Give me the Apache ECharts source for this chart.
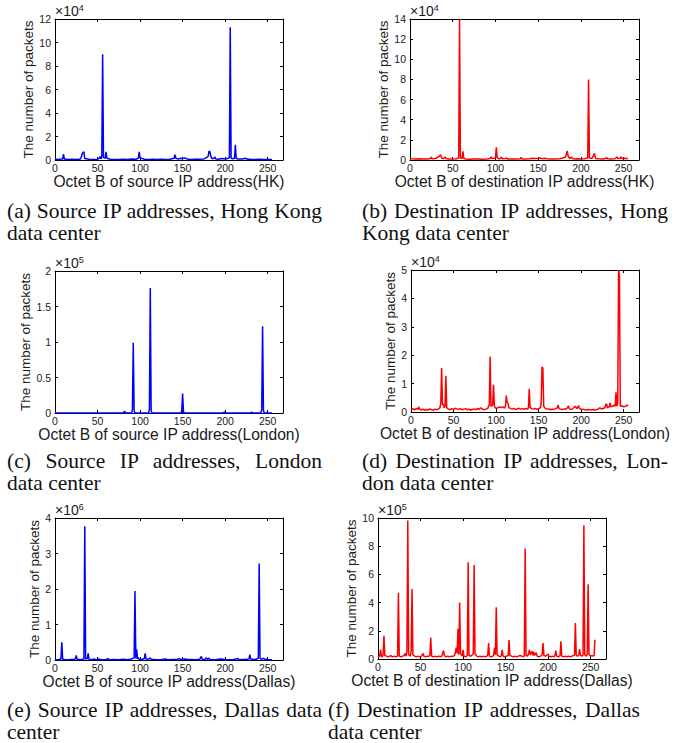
<!DOCTYPE html>
<html>
<head>
<meta charset="utf-8">
<script src="https://cdn.jsdelivr.net/npm/echarts@6/dist/echarts.min.js"></script>
<style>
    body { margin: 0; background: #fff; }
    #main { position: absolute; left: 0; top: 0; width: 676px; height: 743px; }
    .cap { position: absolute; font-family: "Liberation Serif", "DejaVu Serif", serif; font-size: 21.5px; line-height: 22px; color: #111; }
    .cap .j { text-align: justify; text-align-last: justify; white-space: nowrap; }
</style>
</head>
<body>
<div id="main"></div>
<div class="cap" style="left:7px;top:200px;width:315px"><div class="j">(a) Source IP addresses, Hong Kong</div><div>data center</div></div>
<div class="cap" style="left:362px;top:200px;width:306px"><div class="j">(b) Destination IP addresses, Hong</div><div>Kong data center</div></div>
<div class="cap" style="left:7px;top:450px;width:315px"><div class="j">(c) Source IP addresses, London</div><div>data center</div></div>
<div class="cap" style="left:362px;top:450px;width:306px"><div class="j">(d) Destination IP addresses, Lon-</div><div>don data center</div></div>
<div class="cap" style="left:7px;top:699px;width:315px"><div class="j">(e) Source IP addresses, Dallas data</div><div>center</div></div>
<div class="cap" style="left:328px;top:699px;width:312px"><div class="j">(f) Destination IP addresses, Dallas</div><div>data center</div></div>
<script>
// packets per octet B value, [octet, packets]
var hkSrc = [[0,800],[3,500],[6,700],[9,900],[10,5000],[11,800],[15,400],[20,600],[25,500],[30,900],[31,2500],[32,5500],[33,6500],[34,7000],[35,1200],[40,600],[45,500],[50,700],[52,1500],[53,3000],[54,1000],[55,2500],[56,90000],[57,2000],[59,1500],[60,7000],[61,1500],[65,600],[70,500],[75,400],[80,600],[85,500],[90,800],[95,700],[98,1500],[99,7000],[100,1800],[105,600],[110,500],[115,700],[120,400],[125,600],[130,500],[135,700],[140,1500],[141,4500],[142,1500],[145,800],[148,1500],[150,1200],[153,1800],[155,900],[158,600],[160,500],[165,600],[170,700],[175,900],[178,2000],[180,3000],[181,7500],[182,7000],[183,4000],[184,1500],[186,1000],[188,2500],[189,900],[192,700],[196,1200],[200,800],[204,1500],[205,2000],[206,113000],[207,1500],[209,1000],[211,1500],[212,13000],[213,1500],[215,800],[220,900],[224,1500],[226,700],[230,600],[235,500],[240,600],[245,400],[250,500],[255,400]];

var hkDst = [[0,1500],[3,1200],[6,1000],[10,1300],[15,900],[20,1100],[24,1500],[25,3000],[26,1200],[30,1500],[32,2500],[34,3500],[35,4500],[36,5000],[37,2000],[39,1200],[41,3000],[42,1500],[45,1000],[50,900],[54,1200],[57,2000],[58,140000],[59,2000],[61,1500],[62,8500],[63,1500],[65,1000],[70,800],[75,900],[80,1000],[85,800],[90,1000],[94,1500],[95,3000],[96,1500],[100,2000],[101,12500],[102,2500],[104,1200],[106,1500],[107,3000],[108,1200],[112,1500],[113,2000],[114,1000],[120,900],[125,1000],[129,1200],[130,2500],[131,1000],[135,900],[140,1300],[143,1800],[146,1500],[150,1800],[152,2000],[155,1300],[158,1800],[160,1200],[165,900],[170,1000],[175,1200],[179,2000],[182,3000],[184,9000],[185,4000],[187,1500],[189,3000],[190,1500],[193,1000],[196,1200],[200,1000],[204,1300],[208,2000],[209,80000],[210,2000],[213,1500],[216,6500],[217,1500],[220,1200],[225,1000],[229,1500],[230,2500],[231,1200],[235,1000],[240,1300],[242,3000],[243,1500],[246,1500],[247,3000],[248,1500],[250,1200],[252,1800],[255,1200]];

var lonSrc = [[0,0],[80,0],[81,1500],[82,2500],[83,0],[90,0],[91,5000],[92,99000],[93,3000],[94,0],[110,0],[111,5000],[112,176000],[113,3000],[114,0],[148,0],[149,3000],[150,27500],[151,2000],[152,0],[198,0],[199,1500],[200,0],[230,0],[231,1500],[232,0],[242,0],[243,5000],[244,122000],[245,3000],[246,0],[255,0]];

var lonDst = [[0,800],[2,1200],[4,700],[6,1300],[8,900],[9,1800],[10,1100],[12,700],[14,1000],[16,600],[18,900],[20,700],[22,1100],[24,800],[26,600],[28,1000],[30,800],[32,1000],[34,1500],[35,3000],[36,15500],[37,2500],[38,2800],[39,1500],[40,2000],[41,12800],[42,1500],[44,1000],[46,800],[48,1200],[50,900],[52,1300],[54,1100],[56,900],[58,1200],[60,800],[62,1000],[64,1200],[66,800],[68,1000],[70,700],[72,900],[74,1100],[76,800],[78,1300],[80,900],[82,1500],[84,1000],[86,800],[88,1000],[90,1200],[92,2500],[93,19500],[94,2000],[96,2500],[97,9600],[98,2000],[100,1200],[102,1500],[104,1800],[106,1600],[108,1800],[110,1400],[111,2000],[112,5800],[113,3500],[114,3000],[115,1600],[117,1200],[119,1000],[121,1300],[123,900],[125,1100],[127,1300],[129,1000],[131,1200],[133,900],[135,1300],[137,1000],[138,1500],[139,8200],[140,1500],[142,1200],[144,1000],[146,1300],[148,900],[150,1200],[152,1500],[153,3000],[154,15900],[155,15500],[156,2000],[158,1200],[160,1000],[162,1100],[164,800],[166,1000],[168,900],[170,1200],[172,1500],[173,2500],[174,1200],[176,1000],[178,900],[180,1100],[182,1000],[184,1500],[185,2200],[186,1200],[188,900],[190,1100],[192,1800],[193,2000],[195,1200],[197,2200],[198,1300],[200,900],[202,1000],[204,800],[206,700],[208,900],[210,800],[212,700],[214,900],[216,700],[218,800],[220,1000],[222,1500],[224,1000],[226,1300],[228,1500],[229,2700],[230,2800],[231,1500],[233,1800],[234,3200],[235,1800],[237,2000],[239,2500],[240,2000],[241,6900],[242,2000],[243,3000],[244,50000],[245,48000],[246,2000],[248,2200],[250,1800],[252,2000],[254,2300],[255,2600]];

var dalSrc = [[0,10000],[5,15000],[7,30000],[8,500000],[9,20000],[12,10000],[18,15000],[23,20000],[24,40000],[25,130000],[26,20000],[30,10000],[34,30000],[35,3770000],[36,30000],[38,40000],[39,190000],[40,20000],[44,10000],[46,30000],[48,10000],[52,25000],[55,10000],[60,15000],[62,35000],[64,10000],[70,15000],[75,10000],[80,20000],[85,10000],[90,30000],[93,60000],[94,1940000],[95,40000],[96,300000],[97,30000],[98,70000],[99,20000],[102,15000],[105,40000],[106,190000],[107,30000],[110,20000],[112,60000],[113,20000],[118,15000],[124,10000],[130,30000],[132,10000],[138,15000],[144,20000],[146,35000],[148,15000],[152,30000],[155,20000],[160,15000],[165,10000],[170,20000],[172,100000],[173,20000],[176,15000],[178,60000],[179,15000],[181,50000],[182,15000],[186,10000],[190,15000],[195,30000],[200,15000],[205,10000],[210,15000],[215,40000],[216,10000],[220,15000],[225,20000],[228,30000],[229,150000],[230,30000],[233,15000],[236,20000],[239,50000],[240,2720000],[241,40000],[243,20000],[245,50000],[246,30000],[250,15000],[255,10000]];

var dalDst = [[0,20000],[1,15000],[2,20000],[3,66000],[4,20000],[5,15000],[6,30000],[7,165000],[8,25000],[10,20000],[12,15000],[14,20000],[15,25000],[17,15000],[19,20000],[21,15000],[23,20000],[24,470000],[25,20000],[27,15000],[29,20000],[31,25000],[32,40000],[33,20000],[34,60000],[35,983000],[36,30000],[38,20000],[39,60000],[40,496000],[41,30000],[43,20000],[45,15000],[47,20000],[49,15000],[51,20000],[52,30000],[53,40000],[54,20000],[56,15000],[58,20000],[60,20000],[61,25000],[62,153000],[63,20000],[65,15000],[67,20000],[69,15000],[71,20000],[73,18000],[75,20000],[76,40000],[77,60000],[78,25000],[80,15000],[82,20000],[84,15000],[86,20000],[88,18000],[90,25000],[91,50000],[92,80000],[93,40000],[94,214000],[95,30000],[96,400000],[97,40000],[98,30000],[99,20000],[100,65000],[101,20000],[103,15000],[105,25000],[106,687000],[107,25000],[109,20000],[111,30000],[112,40000],[113,666000],[114,40000],[116,20000],[118,15000],[120,20000],[122,15000],[124,20000],[126,15000],[128,20000],[129,30000],[130,113000],[131,20000],[133,15000],[135,20000],[136,30000],[137,80000],[138,30000],[139,367000],[140,30000],[142,20000],[144,15000],[145,25000],[146,65000],[147,20000],[149,15000],[151,20000],[153,25000],[154,134000],[155,25000],[157,20000],[159,15000],[161,20000],[163,15000],[165,20000],[167,25000],[169,20000],[171,15000],[172,25000],[173,784000],[174,25000],[176,20000],[178,65000],[179,30000],[180,40000],[181,55000],[182,25000],[183,50000],[184,25000],[186,45000],[187,20000],[189,15000],[191,20000],[193,30000],[194,113000],[195,25000],[197,20000],[199,30000],[200,35000],[201,20000],[203,15000],[205,20000],[207,15000],[208,25000],[209,60000],[210,20000],[212,15000],[214,25000],[215,125000],[216,20000],[218,15000],[220,20000],[222,15000],[224,20000],[226,15000],[228,20000],[230,25000],[231,30000],[232,255000],[233,25000],[235,20000],[236,30000],[237,70000],[238,25000],[240,20000],[241,30000],[242,948000],[243,30000],[245,20000],[246,40000],[247,530000],[248,30000],[250,20000],[252,25000],[253,20000],[254,25000],[255,136000]];

var xNames = ['Octet B of source IP address(HK)', 'Octet B of destination IP address(HK)',
    'Octet B of source IP address(London)', 'Octet B of destination IP address(London)',
    'Octet B of source IP address(Dallas)', 'Octet B of destination IP address(Dallas)'];
var yMax = [120000, 140000, 200000, 50000, 4000000, 1000000];
var yStep = [20000, 20000, 50000, 10000, 1000000, 200000];
var yExp = [4, 4, 5, 4, 6, 5];
var xMax = 268, xStep = 50;

var allData = [hkSrc, hkDst, lonSrc, lonDst, dalSrc, dalDst];
var colors = ['#0000ff', '#ff0000', '#0000ff', '#ff0000', '#0000ff', '#ff0000'];

// plot boxes in px
var boxes = [
    {left: 55, top: 19, width: 228, height: 141},
    {left: 410, top: 19, width: 229, height: 141},
    {left: 55, top: 271, width: 228, height: 142},
    {left: 411, top: 270, width: 228, height: 142},
    {left: 55, top: 518, width: 228, height: 142},
    {left: 378, top: 518, width: 228, height: 141}
];
var yGap = [18, 15, 20, 11, 11, 17];
var xGap = [6, 6, 5, 6, 6, 7];

var chart = echarts.init(document.getElementById('main'), null, {renderer: 'svg'});

var grid = [], xAxis = [], yAxis = [], series = [], title = [];
var ink = '#1a1a1a';
var font = '"Liberation Sans", Arial, sans-serif';

boxes.forEach(function (b, i) {
    grid.push({left: b.left, top: b.top, width: b.width, height: b.height, containLabel: false});
    var scale = Math.pow(10, yExp[i]);
    var line = {show: true, onZero: false, lineStyle: {color: '#000', width: 1}};
    var tick = {show: true, inside: true, length: 3, lineStyle: {color: '#000', width: 1}};
    xAxis.push({
        gridIndex: i, type: 'value', min: 0, max: xMax, interval: xStep,
        axisLine: line, axisTick: tick, splitLine: {show: false},
        axisLabel: {
            fontSize: 10.5, color: ink, fontFamily: font, margin: 2,
            formatter: function (v) { return v % xStep === 0 ? String(v) : ''; }
        },
        name: xNames[i], nameLocation: 'middle', nameGap: xGap[i],
        nameTextStyle: {fontSize: 15.6, color: ink, fontFamily: font}
    });
    xAxis.push({
        gridIndex: i, type: 'value', position: 'top', min: 0, max: xMax, interval: xStep,
        axisLine: line, axisTick: tick, axisLabel: {show: false}, splitLine: {show: false}
    });
    yAxis.push({
        gridIndex: i, type: 'value', min: 0, max: yMax[i], interval: yStep[i],
        axisLine: line, axisTick: tick, splitLine: {show: false},
        axisLabel: {
            fontSize: 10.5, color: ink, fontFamily: font, margin: 4,
            formatter: function (v) { return String(+(v / scale).toFixed(2)); }
        },
        name: 'The number of packets', nameLocation: 'middle', nameGap: yGap[i],
        nameTextStyle: {fontSize: 13.5, color: ink, fontFamily: font}
    });
    yAxis.push({
        gridIndex: i, type: 'value', position: 'right', min: 0, max: yMax[i], interval: yStep[i],
        axisLine: line, axisTick: tick, axisLabel: {show: false}, splitLine: {show: false}
    });
    series.push({
        type: 'line', xAxisIndex: i * 2, yAxisIndex: i * 2, data: allData[i],
        showSymbol: false, symbol: 'none', clip: true,
        lineStyle: {color: colors[i], width: 1.5}, itemStyle: {color: colors[i]}
    });
    title.push({
        left: b.left, top: b.top - 16, padding: 0,
        text: '{m|×10}{e|' + yExp[i] + '}',
        textStyle: {
            fontWeight: 'normal',
            rich: {
                m: {fontSize: 14, fontWeight: 'normal', color: ink, fontFamily: font, lineHeight: 16},
                e: {fontSize: 9, fontWeight: 'normal', color: ink, fontFamily: font, lineHeight: 9, verticalAlign: 'top'}
            }
        }
    });
});

chart.setOption({
    animation: false,
    backgroundColor: '#fff',
    title: title,
    grid: grid,
    xAxis: xAxis,
    yAxis: yAxis,
    series: series
});
</script>
</body>
</html>
